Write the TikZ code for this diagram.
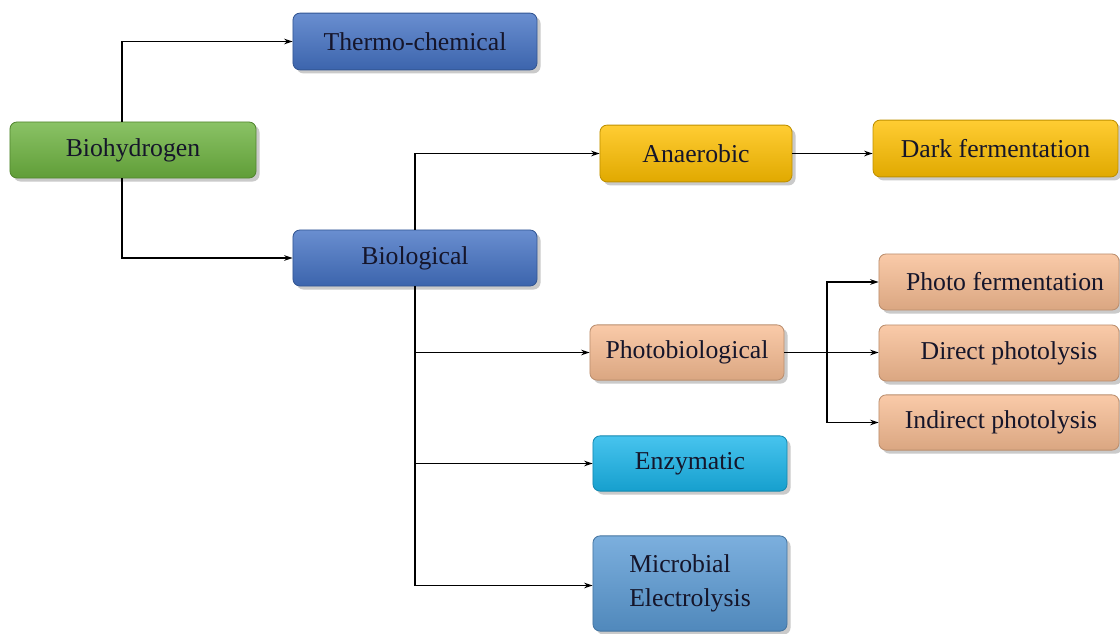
\documentclass[tikz,border=0pt]{standalone}
\usepackage{fontspec}
\setmainfont{Liberation Serif}
\usepackage{tikz}
\usetikzlibrary{arrows.meta,shadows}
\definecolor{leafgreen}{HTML}{6DB33F}
\definecolor{royalblue}{HTML}{4472C4}
\definecolor{goldbox}{HTML}{FFC000}
\definecolor{peachbox}{HTML}{F8BD93}
\definecolor{cyanbox}{HTML}{19B5EA}
\definecolor{skybox}{HTML}{5B9BD5}
\definecolor{inkc}{HTML}{15152A}

\begin{document}
\begin{tikzpicture}[x=0.025cm, y=-0.025cm,
		font=\rmfamily\fontsize{18.3}{24}\selectfont, text=inkc,
		procbox/.style={rounded corners=5pt, inner sep=2pt,
			draw=#1!75!black, line width=0.6pt,
			top color=#1!80!white, middle color=#1, bottom color=#1!88!black,
			drop shadow={shadow xshift=2.5pt, shadow yshift=-2.5pt, opacity=0.35, fill=black!60}},
		hv/.style={to path={|- (\tikztotarget)}},
		>={Stealth[length=6pt,width=4pt]}, line width=1.3pt]
			\useasboundingbox (0,0) rectangle (1120,633);
			\node[procbox=leafgreen, minimum width=6.15cm, minimum height=1.4cm] (bioh) at (133,150) {Biohydrogen\hspace{0.5cm}};
			\node[procbox=royalblue, minimum width=6.1cm, minimum height=1.42cm] (thermo) at (415,41.5) {Thermo-chemical};
			\node[procbox=royalblue, minimum width=6.1cm, minimum height=1.4cm] (biol) at (415,258) {Biological};
			\node[procbox=goldbox, minimum width=4.8cm, minimum height=1.42cm] (anaer) at (696,153.5) {Anaerobic};
			\node[procbox=goldbox, minimum width=6.12cm, minimum height=1.42cm] (dark) at (995.5,148.5) {Dark fermentation};
			\node[procbox=peachbox, minimum width=4.85cm, minimum height=1.38cm] (photob) at (687,352.5) {Photobiological};
			\node[procbox=peachbox, minimum width=6cm, minimum height=1.4cm] (pf) at (999,282) {\hspace{0.3cm}Photo fermentation};
			\node[procbox=peachbox, minimum width=6cm, minimum height=1.4cm] (dp) at (999,353) {\hspace{0.5cm}Direct photolysis};
			\node[procbox=peachbox, minimum width=6cm, minimum height=1.38cm] (ip) at (999,422.5) {\hspace{0.1cm}Indirect photolysis};
			\node[procbox=cyanbox, minimum width=4.85cm, minimum height=1.38cm] (enz) at (690,463.5) {Enzymatic};
			\node[procbox=skybox, minimum width=4.85cm, minimum height=2.38cm, align=left] (mec) at (690,583.5) {Microbial\\Electrolysis};
			\coordinate (split) at (827,352);
			\path[->]
			([xshift=-0.275cm]bioh.north) edge[hv] (thermo)
			([xshift=-0.275cm]bioh.south) edge[hv] (biol)
			(biol.north) edge[hv] (anaer)
			(biol.south) edge[hv] (photob) edge[hv] (enz) edge[hv] ([yshift=-0.05cm]mec.west)
			(anaer.east) edge (anaer.east -| dark.west)
			(photob.east) edge (photob.east -| dp.west)
			(split) edge[hv] (pf) edge[hv] (ip);
		\end{tikzpicture}
\end{document}
